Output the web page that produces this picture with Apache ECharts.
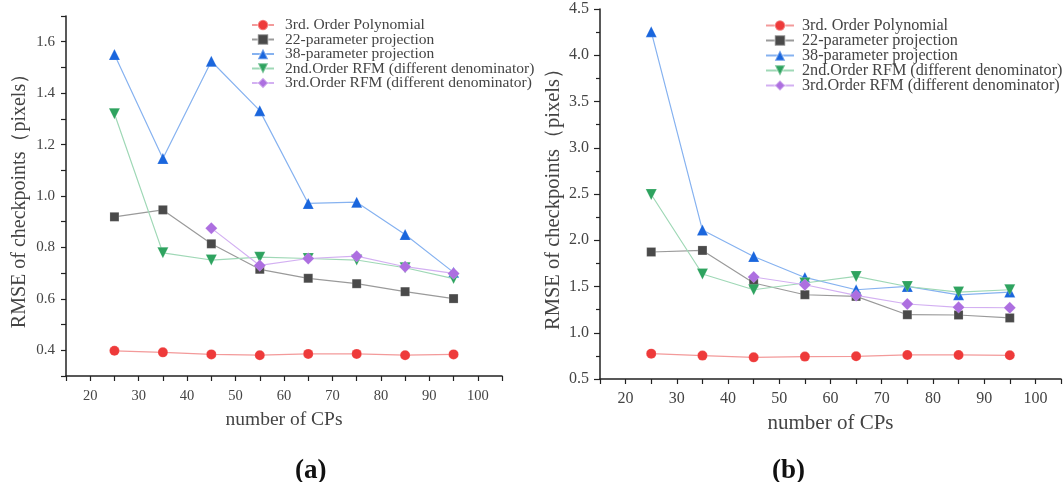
<!DOCTYPE html>
<html>
<head>
<meta charset="utf-8">
<script src="https://cdn.jsdelivr.net/npm/echarts@6/dist/echarts.min.js"></script>
<style>
html,body{margin:0;padding:0;background:#fff;}
#chart{width:1064px;height:482px;}
</style>
</head>
<body>
<div id="chart"></div>
<script>
// ---- data ----
var xCPs = [25, 35, 45, 55, 65, 75, 85, 95];
var seriesNames = [
  '3rd. Order Polynomial',
  '22-parameter projection',
  '38-parameter projection',
  '2nd.Order RFM (different denominator)',
  '3rd.Order RFM (different denominator)'
];
// panel (a)
var a_poly3  = [0.398, 0.392, 0.384, 0.381, 0.386, 0.386, 0.381, 0.384];
var a_proj22 = [0.919, 0.946, 0.814, 0.715, 0.680, 0.659, 0.628, 0.601];
var a_proj38 = [1.550, 1.146, 1.524, 1.332, 0.971, 0.976, 0.850, 0.703];
var a_rfm2   = [1.320, 0.779, 0.751, 0.762, 0.757, 0.751, 0.721, 0.679];
var a_rfm3   = [null, null, 0.875, 0.730, 0.757, 0.766, 0.725, 0.699];
// panel (b)
var b_poly3  = [0.774, 0.753, 0.734, 0.742, 0.745, 0.760, 0.760, 0.756];
var b_proj22 = [1.873, 1.890, 1.538, 1.411, 1.393, 1.195, 1.192, 1.160];
var b_proj38 = [4.255, 2.110, 1.825, 1.598, 1.465, 1.501, 1.410, 1.440];
var b_rfm2   = [2.495, 1.635, 1.465, 1.538, 1.609, 1.500, 1.440, 1.465];
var b_rfm3   = [null, null, 1.603, 1.519, 1.404, 1.311, 1.275, 1.270];

var xAxisName = 'number of CPs';
var yAxisName = 'RMSE of checkpoints（pixels）';
var panelLabels = ['(a)', '(b)'];

// ---- styles ----
var markerColors = ['#ee3a3a', '#4a4a4a', '#1a66dd', '#2ea35f', '#ad6fe0'];
var lineColors   = ['#f39a9a', '#9a9a9a', '#86b2f0', '#9fd8b6', '#d3b0f2'];
var symbols      = ['circle', 'rect', 'triangle', 'triangle', 'diamond'];
var symbolRot    = [0, 0, 0, 180, 0];
var symbolSizes  = [10, 9, 11, 11, 12];

var FONT = '"Liberation Serif", "DejaVu Serif", serif';

function zip(xs, ys) {
  var out = [];
  for (var i = 0; i < xs.length; i++) {
    if (ys[i] !== null) out.push([xs[i], ys[i]]);
  }
  return out;
}

var panelData = [
  [a_poly3, a_proj22, a_proj38, a_rfm2, a_rfm3],
  [b_poly3, b_proj22, b_proj38, b_rfm2, b_rfm3]
];

var series = [];
for (var p = 0; p < 2; p++) {
  for (var s = 0; s < 5; s++) {
    series.push({
      type: 'line',
      name: seriesNames[s],
      xAxisIndex: p,
      yAxisIndex: p,
      data: zip(xCPs, panelData[p][s]),
      symbol: symbols[s],
      symbolRotate: symbolRot[s],
      symbolSize: symbolSizes[s],
      showAllSymbol: true,
      connectNulls: false,
      itemStyle: { color: markerColors[s], borderColor: 'rgba(255,255,255,0.35)', borderWidth: 0.5 },
      lineStyle: { color: lineColors[s], width: 1.2 },
      emphasis: { disabled: true },
      animation: false,
      z: 2 + s
    });
  }
}

var axisLineStyle = { lineStyle: { color: '#222', width: 1.5 } };

function xAxisDef(gridIndex, fs, nameFs, nameGap, margin) {
  return {
    type: 'value', gridIndex: gridIndex,
    min: 15, max: 105, interval: 5,
    name: xAxisName, nameLocation: 'middle', nameGap: nameGap,
    nameTextStyle: { fontFamily: FONT, fontSize: nameFs, color: '#444' },
    axisLine: axisLineStyle,
    axisTick: { show: true, length: 5, lineStyle: { color: '#222', width: 1.2 } },
    axisLabel: {
      fontFamily: FONT, fontSize: fs, color: '#444', margin: margin,
      formatter: function (v) { return (Math.round(v) % 10 === 0) ? String(Math.round(v)) : ''; }
    },
    splitLine: { show: false }
  };
}

var option = {
  backgroundColor: '#fff',
  animation: false,
  grid: [
    { left: 66, top: 16, width: 436, height: 360 },
    { left: 600, top: 9, width: 463, height: 370 }
  ],
  xAxis: [
    xAxisDef(0, 14.5, 19.5, 34, 13),
    xAxisDef(1, 16, 21, 34, 12)
  ],
  yAxis: [
    {
      type: 'value', gridIndex: 0,
      min: 0.3, max: 1.7, interval: 0.1,
      name: yAxisName, nameLocation: 'middle', nameGap: 36,
      nameTextStyle: { fontFamily: FONT, fontSize: 20, color: '#444' },
      axisLine: { show: true, lineStyle: { color: '#222', width: 1.5 } },
      axisTick: { show: true, length: 5, lineStyle: { color: '#222', width: 1.2 } },
      axisLabel: {
        fontFamily: FONT, fontSize: 15, color: '#444', margin: 11,
        formatter: function (v) { var k = Math.round(v * 10); return (k % 2 === 0) ? (k / 10).toFixed(1) : ''; }
      },
      splitLine: { show: false }
    },
    {
      type: 'value', gridIndex: 1,
      min: 0.5, max: 4.5, interval: 0.5,
      name: yAxisName, nameLocation: 'middle', nameGap: 36,
      nameTextStyle: { fontFamily: FONT, fontSize: 20.5, color: '#444' },
      axisLine: { show: true, lineStyle: { color: '#222', width: 1.5 } },
      axisTick: { show: true, length: 6, lineStyle: { color: '#222', width: 1.2 } },
      minorTick: { show: true, splitNumber: 2, length: 4, lineStyle: { color: '#222', width: 1.2 } },
      axisLabel: {
        fontFamily: FONT, fontSize: 16, color: '#444', margin: 11,
        formatter: function (v) { return v.toFixed(1); }
      },
      splitLine: { show: false }
    }
  ],
  legend: [
    {
      orient: 'vertical', left: 251, top: 17, padding: 0,
      itemWidth: 22, itemHeight: 13, itemGap: -1.5,
      data: seriesNames,
      textStyle: { fontFamily: FONT, fontSize: 15.5, color: '#444', lineHeight: 13, padding: [0, 0, 0, 6] },
      selectedMode: false
    },
    {
      orient: 'vertical', left: 765, top: 17.5, padding: 0,
      itemWidth: 28, itemHeight: 13, itemGap: -1,
      data: seriesNames,
      textStyle: { fontFamily: FONT, fontSize: 16.2, color: '#444', lineHeight: 13, padding: [0, 0, 0, 3] },
      selectedMode: false
    }
  ],
  graphic: [
    { type: 'text', left: 295, top: 458, style: { text: panelLabels[0], font: 'bold 27px "Liberation Serif", serif', fill: '#111', textAlign: 'center', textVerticalAlign: 'middle' } },
    { type: 'text', left: 772, top: 458, style: { text: panelLabels[1], font: 'bold 27px "Liberation Serif", serif', fill: '#111', textAlign: 'center', textVerticalAlign: 'middle' } }
  ],
  series: series
};

var chart = echarts.init(document.getElementById('chart'), null, { renderer: 'canvas' });
chart.setOption(option);
</script>
</body>
</html>
